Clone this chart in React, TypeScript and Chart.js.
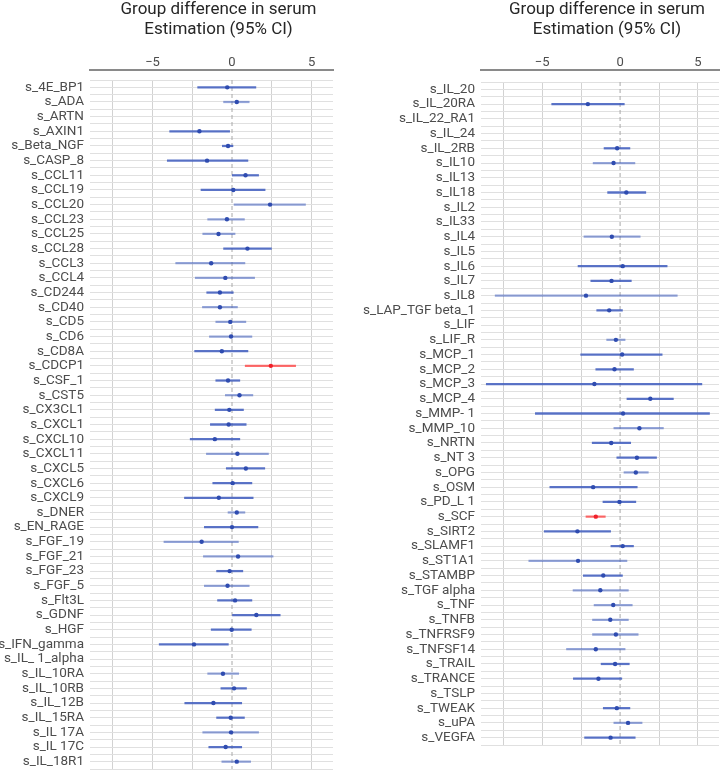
import React, { useEffect, useRef } from 'react';
import { Chart, registerables } from 'chart.js';
Chart.register(...registerables);
Chart.defaults.font.family = 'Roboto';

// ---------- data ----------
const xGridValues = [-7.5, -5, -2.5, 0, 2.5, 5];
const xTickLabels = [-5, 0, 5];
const xMin = -8.93;
const xMax = 6.35;

const leftLabels = [
  's_4E_BP1', 's_ADA', 's_ARTN', 's_AXIN1', 's_Beta_NGF', 's_CASP_8', 's_CCL11', 's_CCL19', 's_CCL20',
  's_CCL23', 's_CCL25', 's_CCL28', 's_CCL3', 's_CCL4', 's_CD244', 's_CD40', 's_CD5', 's_CD6', 's_CD8A',
  's_CDCP1', 's_CSF_1', 's_CST5', 's_CX3CL1', 's_CXCL1', 's_CXCL10', 's_CXCL11', 's_CXCL5', 's_CXCL6',
  's_CXCL9', 's_DNER', 's_EN_RAGE', 's_FGF_19', 's_FGF_21', 's_FGF_23', 's_FGF_5', 's_Flt3L', 's_GDNF',
  's_HGF', 's_IFN_gamma', 's_IL_ 1_alpha', 's_IL_10RA', 's_IL_10RB', 's_IL_12B', 's_IL_15RA', 's_IL 17A',
  's_IL 17C', 's_IL_18R1',
];
const leftEst = [
  -0.30, 0.30, null, -2.05, -0.25, -1.57, 0.85, 0.08, 2.39,
  -0.32, -0.85, 0.97, -1.31, -0.42, -0.76, -0.76, -0.11, -0.06, -0.64,
  2.44, -0.25, 0.47, -0.17, -0.21, -1.08, 0.34, 0.87, 0.04,
  -0.83, 0.30, 0.0, -1.91, 0.38, -0.15, -0.28, 0.19, 1.53,
  -0.02, -2.39, null, -0.57, 0.13, -1.17, -0.08, -0.06,
  -0.40, 0.30,
];
const leftLow = [
  -2.16, -0.53, null, -3.92, -0.61, -4.07, 0.02, -1.95, 0.13,
  -1.53, -1.84, -0.53, -3.54, -2.31, -1.59, -1.86, -1.02, -1.42, -2.35,
  0.83, -1.02, -0.42, -1.06, -1.36, -2.63, -1.61, -0.36, -1.21,
  -2.99, -0.25, -1.74, -4.28, -1.80, -0.97, -1.74, -0.91, 0.0,
  -1.31, -4.58, null, -1.53, -0.70, -2.97, -0.97, -1.84,
  -1.46, -0.64,
];
const leftHigh = [
  1.50, 1.08, null, -0.15, 0.06, 1.00, 1.67, 2.08, 4.62,
  0.78, 0.19, 2.48, 0.81, 1.42, 0.08, 0.34, 0.87, 1.25, 1.00,
  4.00, 0.49, 1.31, 0.72, 0.89, 0.49, 2.29, 2.06, 1.25,
  1.33, 0.81, 1.63, 0.40, 2.58, 0.68, 1.08, 1.25, 3.03,
  1.21, -0.23, null, 0.42, 0.91, 0.61, 0.78, 1.67,
  0.61, 1.17,
];
const leftStrength = [
  1, 0, 0, 1, 1, 1, 1, 1, 0,
  0, 0, 1, 0, 0, 1, 0, 0, 0, 1,
  1, 1, 0, 1, 1, 1, 0, 1, 1,
  1, 0, 1, 0, 0, 1, 0, 1, 1,
  1, 1, 0, 0, 1, 1, 1, 0,
  1, 0,
];
const leftHighlighted = ['s_CDCP1'];

const rightLabels = [
  's_IL_20', 's_IL_20RA', 's_IL_22_RA1', 's_IL_24', 's_IL_2RB', 's_IL10', 's_IL13', 's_IL18', 's_IL2',
  's_IL33', 's_IL4', 's_IL5', 's_IL6', 's_IL7', 's_IL8', 's_LAP_TGF beta_1', 's_LIF', 's_LIF_R',
  's_MCP_1', 's_MCP_2', 's_MCP_3', 's_MCP_4', 's_MMP- 1', 's_MMP_10', 's_NRTN', 's_NT 3', 's_OPG',
  's_OSM', 's_PD_L 1', 's_SCF', 's_SIRT2', 's_SLAMF1', 's_ST1A1', 's_STAMBP', 's_TGF alpha', 's_TNF',
  's_TNFB', 's_TNFRSF9', 's_TNFSF14', 's_TRAIL', 's_TRANCE', 's_TSLP', 's_TWEAK', 's_uPA', 's_VEGFA',
];
const rightEst = [
  null, -2.07, null, null, -0.19, -0.42, null, 0.40, null,
  null, -0.53, null, 0.17, -0.55, -2.19, -0.70, null, -0.27,
  0.13, -0.36, -1.65, 1.94, 0.19, 1.24, -0.57, 1.08, 1.01,
  -1.73, -0.04, -1.56, -2.74, 0.17, -2.70, -1.08, -1.27, -0.44,
  -0.63, -0.27, -1.56, -0.32, -1.39, null, -0.21, 0.51, -0.61,
];
const rightLow = [
  null, -4.39, null, null, -1.03, -1.73, null, -0.80, null,
  null, -2.32, null, -2.70, -1.88, -8.02, -1.50, null, -0.86,
  -2.53, -1.56, -8.59, 0.44, -5.44, -0.40, -1.79, -0.21, 0.25,
  -4.51, -1.10, -2.19, -4.87, -0.59, -5.86, -2.36, -3.02, -1.67,
  -1.77, -1.77, -3.44, -1.22, -3.00, null, -1.08, -0.40, -2.28,
];
const rightHigh = [
  null, 0.27, null, null, 0.63, 0.95, null, 1.65, null,
  null, 1.29, null, 3.02, 0.72, 3.67, 0.15, null, 0.32,
  2.70, 0.86, 5.25, 3.42, 5.74, 2.78, 0.68, 2.34, 1.81,
  1.10, 1.01, -0.95, -0.61, 0.86, 0.44, 0.15, 0.53, 0.78,
  0.53, 1.16, 0.32, 0.59, 0.11, null, 0.63, 1.41, 0.97,
];
const rightStrength = [
  0, 1, 0, 0, 1, 0, 0, 1, 0,
  0, 0, 0, 1, 1, 0, 1, 0, 0,
  1, 1, 1, 1, 1, 0, 1, 1, 0,
  1, 1, 1, 1, 1, 0, 1, 0, 0,
  0, 0, 0, 1, 1, 0, 1, 0, 1,
];
const rightHighlighted = ['s_SCF'];

const titleLines = ['Group difference in serum', 'Estimation (95% CI)'];

// ---------- chart ----------
type PanelProps = {
  labels: string[];
  est: (number | null)[];
  low: (number | null)[];
  high: (number | null)[];
  strength: number[];
  highlighted: string[];
  left: number;
  width: number;
  yAxisWidth: number;
  padRight: number;
  padBottom: number;
  gap: number;
};

const HEIGHT = 773;

function Panel(p: PanelProps) {
  const ref = useRef<HTMLCanvasElement | null>(null);
  useEffect(() => {
    if (!ref.current) return;
    const n = p.labels.length;
    const rows = p.labels.map((_, i) => i).filter((i) => p.est[i] != null);
    const isHi = (i: number) => p.highlighted.includes(p.labels[i]);
    const lineColor = (i: number) =>
      isHi(i) ? 'rgba(255,60,60,0.75)' : p.strength[i] ? 'rgba(62,92,190,0.85)' : 'rgba(62,92,190,0.55)';
    const dotColor = (i: number) => (isHi(i) ? '#f0202a' : '#2f4cb0');
    const yTicks: number[] = [];
    for (let k = 0; k <= 2 * n; k++) yTicks.push(-0.5 + k * 0.5);

    const titlePlugin = {
      id: 'panelTitle',
      afterDraw(chart: any) {
        const { ctx, chartArea } = chart;
        ctx.save();
        ctx.font = '17px Roboto';
        ctx.fillStyle = '#262626';
        ctx.textAlign = 'center';
        ctx.textBaseline = 'middle';
        const cx = (chartArea.left + chartArea.right) / 2 + 7;
        ctx.fillText(titleLines[0], cx, 10);
        ctx.fillText(titleLines[1], cx, 30);
        ctx.restore();
      },
    };

    const chart = new Chart(ref.current, {
      type: 'scatter',
      data: {
        datasets: [
          {
            type: 'line',
            data: [
              { x: 0, y: -0.5 },
              { x: 0, y: n - 0.5 },
            ],
            borderColor: '#a8a8a8',
            borderWidth: 1,
            borderDash: [4, 3],
            pointRadius: 0,
            order: 3,
          } as any,
          {
            type: 'bar',
            indexAxis: 'y',
            data: rows.map((i) => ({ x: [p.low[i], p.high[i]], y: i })),
            backgroundColor: rows.map(lineColor),
            barThickness: 1.6,
            order: 2,
          } as any,
          {
            type: 'scatter',
            data: rows.map((i) => ({ x: p.est[i], y: i })),
            pointRadius: 2.2,
            pointBorderWidth: 0,
            pointBackgroundColor: rows.map(dotColor),
            order: 1,
          } as any,
        ],
      },
      options: {
        animation: false,
        responsive: false,
        events: [],
        layout: { padding: { top: 50, left: 0, right: p.padRight, bottom: p.padBottom } },
        plugins: { legend: { display: false }, tooltip: { enabled: false }, title: { display: false } },
        scales: {
          x: {
            type: 'linear',
            position: 'top',
            min: xMin,
            max: xMax,
            weight: 0,
            offset: false,
            afterBuildTicks: (s: any) => {
              s.ticks = xGridValues.map((v) => ({ value: v }));
            },
            afterFit: (s: any) => {
              s.height = p.gap;
              s.paddingLeft = 0;
              s.paddingRight = 0;
            },
            ticks: { display: false },
            grid: {
              color: (ctx: any) => (ctx.tick && ctx.tick.value === 0 ? 'rgba(0,0,0,0)' : '#d2d2d2'),
              lineWidth: 1,
              drawTicks: false,
            },
            border: { display: false },
          },
          xTop: {
            type: 'linear',
            position: 'top',
            min: xMin,
            max: xMax,
            weight: 1,
            afterBuildTicks: (s: any) => {
              s.ticks = xTickLabels.map((v) => ({ value: v }));
            },
            afterFit: (s: any) => {
              s.height = 20;
              s.paddingLeft = 0;
              s.paddingRight = 0;
            },
            ticks: {
              font: { size: 13 },
              color: '#4d4d4d',
              padding: -1,
              maxRotation: 0,
              autoSkip: false,
              callback: (v: any) => (v < 0 ? '\u2212' + Math.abs(v) : String(v)),
            },
            grid: { drawOnChartArea: false, drawTicks: false, color: '#8a8a8a', lineWidth: 1 },
            border: { display: true, color: '#8a8a8a', width: 2 },
          },
          y: {
            type: 'linear',
            reverse: true,
            min: -0.5,
            max: n - 0.5,
            offset: false,
            afterBuildTicks: (s: any) => {
              s.ticks = yTicks.map((v) => ({ value: v }));
            },
            afterFit: (s: any) => {
              s.width = p.yAxisWidth;
              s.paddingTop = 0;
              s.paddingBottom = 0;
            },
            ticks: {
              autoSkip: false,
              font: { size: 13.5 },
              color: '#4d4d4d',
              padding: 6,
              callback: (v: any) => (Number.isInteger(v) && v >= 0 && v < n ? p.labels[v] : ''),
            },
            grid: { color: '#e0e0e0', lineWidth: 1, drawTicks: false, offset: false },
            border: { display: false },
          },
        },
      } as any,
      plugins: [titlePlugin],
    });
    return () => chart.destroy();
  }, []);
  return (
    <canvas
      ref={ref}
      width={p.width}
      height={HEIGHT}
      style={{ position: 'absolute', left: p.left, top: 0, width: p.width, height: HEIGHT }}
    />
  );
}

export default function App() {
  return (
    <div style={{ position: 'absolute', left: 0, top: 0, width: 723, height: HEIGHT, background: '#fff', overflow: 'hidden' }}>
      <Panel
        labels={leftLabels}
        est={leftEst}
        low={leftLow}
        high={leftHigh}
        strength={leftStrength}
        highlighted={leftHighlighted}
        left={0}
        width={345}
        yAxisWidth={90}
        padRight={12}
        padBottom={1}
        gap={10}
      />
      <Panel
        labels={rightLabels}
        est={rightEst}
        low={rightLow}
        high={rightHigh}
        strength={rightStrength}
        highlighted={rightHighlighted}
        left={345}
        width={378}
        yAxisWidth={136}
        padRight={0}
        padBottom={28}
        gap={12}
      />
    </div>
  );
}
